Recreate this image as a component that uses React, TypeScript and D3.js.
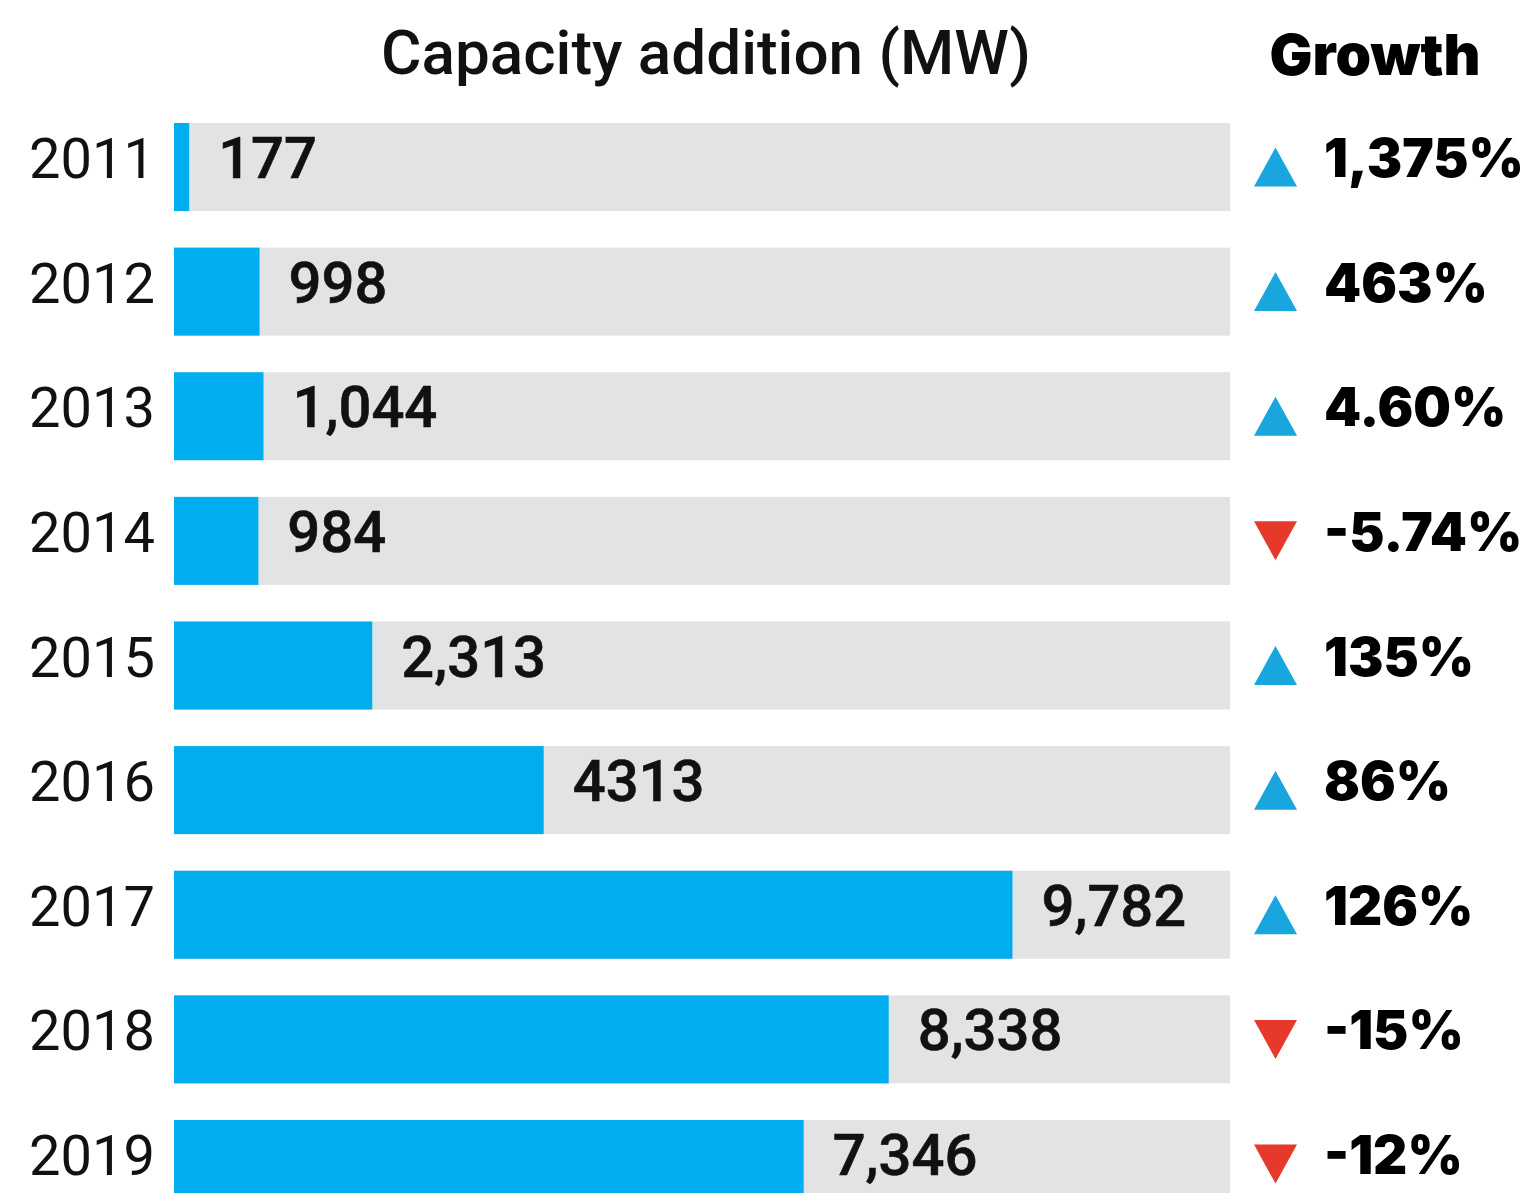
import React, { useEffect, useRef } from 'react';
import * as d3 from 'd3';

// data
const years = ['2011', '2012', '2013', '2014', '2015', '2016', '2017', '2018', '2019'];
const capacity = [177, 998, 1044, 984, 2313, 4313, 9782, 8338, 7346];
const capacityLabels = ['177', '998', '1,044', '984', '2,313', '4313', '9,782', '8,338', '7,346'];
const growth = [1375, 463, 4.6, -5.74, 135, 86, 126, -15, -12];
const growthLabels = ['1,375%', '463%', '4.60%', '-5.74%', '135%', '86%', '126%', '-15%', '-12%'];

const W = 1537;
const H = 1193;

const App = () => {
  const svgRef = useRef<SVGSVGElement>(null);

  useEffect(() => {
    if (!svgRef.current) return;
    const svg = d3.select(svgRef.current);
    svg.selectAll('*').remove();

    const xScale = d3.scaleLinear().domain([0, 12320]).range([174, 1230]);
    const yScale = d3.scaleBand<string>()
      .domain(years)
      .range([123, 1208])
      .paddingInner(0.294)
      .paddingOuter(0);
    const bh = yScale.bandwidth();

    const rows = years.map((y, i) => ({
      year: y,
      value: capacity[i],
      label: capacityLabels[i],
      growth: growth[i],
      growthLabel: growthLabels[i],
    }));

    // headers
    svg.append('text')
      .attr('x', 706)
      .attr('y', 74)
      .attr('text-anchor', 'middle')
      .style('font-family', 'Roboto')
      .style('font-weight', 500)
      .style('font-size', '62px')
      .attr('fill', '#111')
      .text('Capacity addition (MW)');

    svg.append('text')
      .attr('x', 1375)
      .attr('y', 75)
      .attr('text-anchor', 'middle')
      .style('font-family', 'Inter')
      .style('font-weight', 900)
      .style('font-size', '57px')
      .attr('fill', '#000')
      .text('Growth');

    const g = svg.selectAll('.row')
      .data(rows)
      .enter()
      .append('g')
      .attr('class', 'row');

    // grey track
    g.append('rect')
      .attr('x', xScale(0))
      .attr('y', d => yScale(d.year)!)
      .attr('width', xScale.range()[1] - xScale(0))
      .attr('height', bh)
      .attr('fill', '#e1e3e4');

    // blue bar
    g.append('rect')
      .attr('x', xScale(0))
      .attr('y', d => yScale(d.year)!)
      .attr('width', d => xScale(d.value) - xScale(0))
      .attr('height', bh)
      .attr('fill', '#00adee');

    // year labels
    g.append('text')
      .attr('x', 155)
      .attr('y', d => yScale(d.year)! + bh / 2 + 11)
      .attr('text-anchor', 'end')
      .style('font-family', 'Roboto')
      .style('font-weight', 400)
      .style('font-size', '56px')
      .attr('fill', '#111')
      .text(d => d.year);

    // value labels
    g.append('text')
      .attr('x', d => xScale(d.value) + 29)
      .attr('y', d => yScale(d.year)! + bh / 2 + 11)
      .style('font-family', 'Roboto')
      .style('font-weight', 500)
      .style('font-size', '58px')
      .attr('fill', '#111')
      .attr('stroke', '#111')
      .attr('stroke-width', 0.6)
      .text(d => d.label);

    // growth triangles
    const tw = 43;
    const th = 39;
    const tri = d3.line();
    g.append('path')
      .attr('transform', d => `translate(1275.5,${yScale(d.year)! + bh / 2})`)
      .attr('d', d => d.growth >= 0
        ? tri([[-tw / 2, th / 2], [tw / 2, th / 2], [0, -th / 2]])
        : tri([[-tw / 2, -th / 2], [tw / 2, -th / 2], [0, th / 2]]))
      .attr('fill', d => (d.growth >= 0 ? '#19a5dd' : '#e6392c'));

    // growth labels
    g.append('text')
      .attr('x', 1324)
      .attr('y', d => yScale(d.year)! + bh / 2 + 10)
      .style('font-family', 'Inter')
      .style('font-weight', 900)
      .style('font-size', '53px')
      .attr('fill', '#000')
      .text(d => d.growthLabel);
  }, []);

  return (
    <svg
      ref={svgRef}
      width={W}
      height={H}
      style={{ position: 'absolute', left: 0, top: 0, background: '#fff' }}
    />
  );
};

export default App;
